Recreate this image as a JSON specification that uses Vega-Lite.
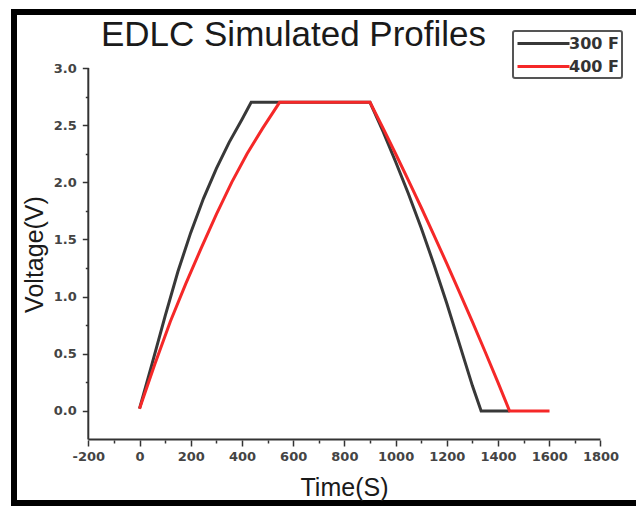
{
  "$schema": "https://vega.github.io/schema/vega-lite/v6.json",
  "autosize": {"type": "none"},
  "width": 627,
  "height": 491,
  "padding": {"left": 14, "top": 12, "right": -5, "bottom": 3},
  "background": "white",
  "config": {
    "view": {"stroke": "#000", "strokeWidth": 6, "fill": "white"},
    "font": "Liberation Sans",
    "legend": {"strokeWidth": 2}
  },
  "datasets": {
    "frame": [
      {"x": -200, "x2": 1800, "y": -0.25, "y2": -0.25},
      {"x": -200, "x2": -200, "y": -0.25, "y2": 3.0}
    ],
    "curves": [
      {"series": "300 F", "t": 0, "v": 0.02},
      {"series": "300 F", "t": 50, "v": 0.42},
      {"series": "300 F", "t": 100, "v": 0.83},
      {"series": "300 F", "t": 150, "v": 1.22},
      {"series": "300 F", "t": 200, "v": 1.56},
      {"series": "300 F", "t": 250, "v": 1.86},
      {"series": "300 F", "t": 300, "v": 2.12},
      {"series": "300 F", "t": 350, "v": 2.35},
      {"series": "300 F", "t": 400, "v": 2.55},
      {"series": "300 F", "t": 436, "v": 2.7},
      {"series": "300 F", "t": 900, "v": 2.7},
      {"series": "300 F", "t": 950, "v": 2.45},
      {"series": "300 F", "t": 1000, "v": 2.18},
      {"series": "300 F", "t": 1050, "v": 1.9},
      {"series": "300 F", "t": 1100, "v": 1.6},
      {"series": "300 F", "t": 1150, "v": 1.28},
      {"series": "300 F", "t": 1200, "v": 0.94},
      {"series": "300 F", "t": 1250, "v": 0.58},
      {"series": "300 F", "t": 1300, "v": 0.22},
      {"series": "300 F", "t": 1334, "v": 0.0},
      {"series": "300 F", "t": 1445, "v": 0.0},
      {"series": "400 F", "t": 0, "v": 0.02},
      {"series": "400 F", "t": 60, "v": 0.41},
      {"series": "400 F", "t": 120, "v": 0.78},
      {"series": "400 F", "t": 180, "v": 1.11},
      {"series": "400 F", "t": 240, "v": 1.42},
      {"series": "400 F", "t": 300, "v": 1.72},
      {"series": "400 F", "t": 360, "v": 2.0},
      {"series": "400 F", "t": 420, "v": 2.25},
      {"series": "400 F", "t": 480, "v": 2.47},
      {"series": "400 F", "t": 547, "v": 2.7},
      {"series": "400 F", "t": 900, "v": 2.7},
      {"series": "400 F", "t": 950, "v": 2.478},
      {"series": "400 F", "t": 1000, "v": 2.25},
      {"series": "400 F", "t": 1050, "v": 2.017},
      {"series": "400 F", "t": 1100, "v": 1.78},
      {"series": "400 F", "t": 1150, "v": 1.537},
      {"series": "400 F", "t": 1200, "v": 1.289},
      {"series": "400 F", "t": 1250, "v": 1.036},
      {"series": "400 F", "t": 1300, "v": 0.779},
      {"series": "400 F", "t": 1350, "v": 0.516},
      {"series": "400 F", "t": 1400, "v": 0.248},
      {"series": "400 F", "t": 1445, "v": 0.0},
      {"series": "400 F", "t": 1601, "v": 0.0}
    ]
  },
  "layer": [
    {
      "data": {"name": "frame"},
      "mark": {"type": "rule", "color": "#333", "strokeWidth": 2, "clip": false},
      "encoding": {
        "x": {
          "field": "x", "type": "quantitative",
          "scale": {"domain": [-490.1, 1958.2], "nice": false, "zero": false},
          "axis": {
            "orient": "bottom", "offset": -63, "domain": false, "grid": false,
            "values": [-100, 100, 300, 500, 700, 900, 1100, 1300, 1500, 1700],
            "tickSize": 3, "tickWidth": 1.5, "tickColor": "#333",
            "labels": false, "title": null
          }
        },
        "x2": {"field": "x2"},
        "y": {
          "field": "y", "type": "quantitative",
          "scale": {"domain": [-0.805, 3.49], "nice": false, "zero": false},
          "axis": {
            "orient": "left", "offset": -74.3, "domain": false, "grid": false,
            "values": [0.25, 0.75, 1.25, 1.75, 2.25, 2.75],
            "tickSize": 3, "tickWidth": 1.5, "tickColor": "#333",
            "labels": false, "title": null
          }
        },
        "y2": {"field": "y2"}
      }
    },
    {
      "data": {"name": "frame"},
      "mark": {"type": "rule", "strokeOpacity": 0, "clip": false},
      "encoding": {
        "x": {
          "field": "x", "type": "quantitative",
          "scale": {"domain": [-490.1, 1958.2], "nice": false, "zero": false},
          "axis": {
            "orient": "top", "domain": false, "grid": false, "ticks": false, "labels": false,
            "title": "EDLC Simulated Profiles", "titleFont": "Liberation Sans", "titleFontSize": 35,
            "titleFontWeight": "normal", "titleColor": "#1a1a1a",
            "titleX": 279, "titleY": 33, "titleBaseline": "alphabetic", "titleAlign": "center"
          }
        },
        "y": {
          "field": "y", "type": "quantitative",
          "scale": {"domain": [-0.805, 3.49], "nice": false, "zero": false},
          "axis": null
        }
      }
    },
    {
      "data": {"name": "curves"},
      "mark": {"type": "line", "strokeWidth": 3, "clip": false},
      "encoding": {
        "x": {
          "field": "t", "type": "quantitative",
          "scale": {"domain": [-490.1, 1958.2], "nice": false, "zero": false},
          "axis": {
            "orient": "bottom", "offset": -63, "domain": false, "grid": false,
            "values": [-200, 0, 200, 400, 600, 800, 1000, 1200, 1400, 1600, 1800],
            "labelExpr": "replace(format(datum.value, 'd'), '\u2212', '-')",
            "tickSize": 6, "tickWidth": 1.5, "tickColor": "#333",
            "labelFont": "DejaVu Sans", "labelFontSize": 13, "labelFontWeight": "bold",
            "labelColor": "#444", "labelPadding": 4, "labelFlush": false, "labelOverlap": false,
            "title": "Time(S)", "titleFont": "Liberation Sans", "titleFontSize": 25,
            "titleFontWeight": "normal", "titleColor": "#1a1a1a",
            "titleX": 330, "titleY": 55, "titleBaseline": "alphabetic", "titleAlign": "center"
          }
        },
        "y": {
          "field": "v", "type": "quantitative",
          "scale": {"domain": [-0.805, 3.49], "nice": false, "zero": false},
          "axis": {
            "orient": "left", "offset": -74.3, "domain": false, "grid": false,
            "values": [0, 0.5, 1, 1.5, 2, 2.5, 3],
            "format": ".1f",
            "tickSize": 6, "tickWidth": 1.5, "tickColor": "#333",
            "labelFont": "DejaVu Sans", "labelFontSize": 13, "labelFontWeight": "bold",
            "labelColor": "#444", "labelPadding": 6, "labelFlush": false, "labelOverlap": false,
            "title": "Voltage(V)", "titleFont": "Liberation Sans", "titleFontSize": 25,
            "titleFontWeight": "normal", "titleColor": "#1a1a1a",
            "titleX": -46, "titleY": 242, "titleBaseline": "alphabetic", "titleAlign": "center", "titleAngle": -90
          }
        },
        "color": {
          "field": "series", "type": "nominal",
          "scale": {"domain": ["300 F", "400 F"], "range": ["#383838", "#f52828"]},
          "legend": {
            "orient": "none", "legendX": 499, "legendY": 19, "title": null,
            "symbolType": "M-3.25,0H3.25", "symbolSize": 256, "symbolStrokeWidth": 3,
            "symbolOffset": 18,
            "labelFont": "DejaVu Sans", "labelFontSize": 16, "labelFontWeight": "bold",
            "labelColor": "#333", "labelOffset": 16,
            "strokeColor": "#555", "padding": 3, "rowPadding": 5, "cornerRadius": 2,
            "fillColor": "white"
          }
        }
      }
    }
  ],
  "resolve": {"axis": {"x": "independent", "y": "independent"}}
}
